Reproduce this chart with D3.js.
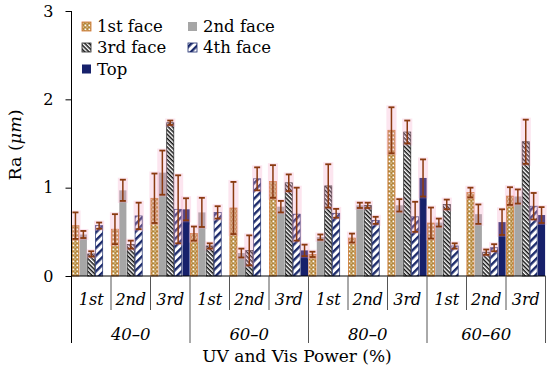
<!DOCTYPE html>
<html>
<head>
<meta charset="utf-8">
<script src="https://cdn.jsdelivr.net/npm/d3@7"></script>
<style>
  html, body { margin: 0; padding: 0; background: #fff; }
  svg { display: block; }
</style>
</head>
<body>
<script>
// ---- data ----
const outerCats = ["40–0", "60–0", "80–0", "60–60"];
const innerCats = ["1st", "2nd", "3rd"];
const seriesNames = ["1st face", "2nd face", "3rd face", "4th face", "Top"];
const yTicks = [0, 1, 2, 3];

const face1    = [0.57, 0.53, 0.88,  0.48, 0.77, 1.07,  0.245, 0.43, 1.65,  0.60, 0.945, 0.905];
const face1Err = [0.15, 0.17, 0.28,  0.08, 0.295, 0.185, 0.03, 0.05, 0.26,  0.175, 0.055, 0.10];
const face2    = [0.47, 0.97, 1.17,  0.72, 0.26, 0.785, 0.44, 0.80, 0.80,  0.605, 0.70, 0.90];
const face2Err = [0.04, 0.12, 0.25,  0.165, 0.05, 0.065, 0.03, 0.03, 0.07, 0.045, 0.11, 0.08];
const face3    = [0.25, 0.355, 1.735, 0.34, 0.29, 1.055, 1.02, 0.80, 1.63,  0.81, 0.27, 1.52];
const face3Err = [0.03, 0.045, 0.025, 0.03, 0.17, 0.095, 0.245, 0.03, 0.13, 0.055, 0.03, 0.25];
const face4    = [0.57, 0.68, 0.755, 0.72, 1.10, 0.70,  0.71, 0.63, 0.67,  0.34, 0.32, 0.79];
const face4Err = [0.035, 0.15, 0.385, 0.07, 0.13, 0.30, 0.05, 0.04, 0.17,  0.03, 0.04, 0.15];
const topFace    = [null, null, 0.755, null, null, 0.29,  null, null, 1.11,  null, 0.61, 0.69];
const topFaceErr = [null, null, 0.125, null, null, 0.065, null, null, 0.21,  null, 0.145, 0.09];

const seriesVals = [face1, face2, face3, face4, topFace];
const seriesErrs = [face1Err, face2Err, face3Err, face4Err, topFaceErr];

// ---- layout ----
const W = 550, H = 371;
const X0 = 71.5, X1 = 545.5, Y0 = 276, Y3 = 11;
const serif = "'DejaVu Serif', 'Liberation Serif', serif";

const svg = d3.select("body").append("svg").attr("width", W).attr("height", H);
const defs = svg.append("defs");

// patterns
const p1 = defs.append("pattern").attr("id", "pF1").attr("patternUnits", "userSpaceOnUse")
  .attr("width", 4).attr("height", 4);
p1.append("rect").attr("width", 4).attr("height", 4).attr("fill", "#B3873A");
p1.append("rect").attr("x", 0.5).attr("y", 0.5).attr("width", 1.8).attr("height", 1.8).attr("fill", "#fff");
p1.append("rect").attr("x", 2.5).attr("y", 2.5).attr("width", 1.2).attr("height", 1.2).attr("fill", "#f3e6cc");

const p3 = defs.append("pattern").attr("id", "pF3").attr("patternUnits", "userSpaceOnUse")
  .attr("width", 3).attr("height", 3).attr("patternTransform", "rotate(45)");
p3.append("rect").attr("width", 3).attr("height", 3).attr("fill", "#fff");
p3.append("rect").attr("width", 3).attr("height", 1.5).attr("fill", "#111");

const p4 = defs.append("pattern").attr("id", "pF4").attr("patternUnits", "userSpaceOnUse")
  .attr("width", 5.5).attr("height", 5.5).attr("patternTransform", "rotate(-45)");
p4.append("rect").attr("width", 5.5).attr("height", 5.5).attr("fill", "#fff");
p4.append("rect").attr("width", 5.5).attr("height", 2.4).attr("fill", "#1B2A6B");

const fills = ["url(#pF1)", "#A6A6A6", "url(#pF3)", "url(#pF4)", "#17216B"];
const strokes = ["#D0702A", "none", "#222", "#1B2A6B", "none"];

// scales
const y = d3.scaleLinear().domain([0, 3]).range([Y0, Y3]);
const xOuter = d3.scaleBand().domain(outerCats).range([X0, X1]).padding(0);
const xInner = d3.scaleBand().domain(innerCats).range([0, xOuter.bandwidth()]).padding(0);
const xBar = d3.scaleBand().domain(seriesNames).range([0, xInner.bandwidth()]).paddingInner(0.1).paddingOuter(0.05);

// flatten
const rows = [];
outerCats.forEach((o, oi) => innerCats.forEach((inn, ii) => {
  const idx = oi * innerCats.length + ii;
  seriesNames.forEach((s, si) => {
    const v = seriesVals[si][idx];
    if (v != null) rows.push({ o, inn, s, si, v, e: seriesErrs[si][idx] });
  });
}));
const bx = d => xOuter(d.o) + xInner(d.inn) + xBar(d.s);

// bars
svg.append("g").selectAll("rect").data(rows).join("rect")
  .attr("x", bx).attr("y", d => y(d.v))
  .attr("width", xBar.bandwidth()).attr("height", d => Y0 - y(d.v))
  .attr("fill", d => fills[d.si])
  .attr("stroke", d => strokes[d.si]).attr("stroke-width", 0.7);

// pink halo over error range
svg.append("g").selectAll("rect").data(rows).join("rect")
  .attr("x", d => bx(d) - 1.5).attr("y", d => y(d.v + d.e) - 2)
  .attr("width", xBar.bandwidth() + 3).attr("height", d => y(d.v - d.e) - y(d.v + d.e) + 4)
  .attr("fill", "#F5A3C7").attr("opacity", 0.28);

// error bars
const eg = svg.append("g").attr("stroke", "#8A3A10");
rows.forEach(d => {
  const cx = bx(d) + xBar.bandwidth() / 2;
  eg.append("line").attr("x1", cx).attr("x2", cx).attr("y1", y(d.v + d.e)).attr("y2", y(d.v - d.e)).attr("stroke-width", 1.5);
  [d.v + d.e, d.v - d.e].forEach(t => {
    eg.append("line").attr("x1", cx - 3).attr("x2", cx + 3).attr("y1", y(t)).attr("y2", y(t)).attr("stroke-width", 1.8);
  });
});

// y axis
const yAxis = d3.axisLeft(y).tickValues(yTicks).tickSize(6).tickFormat(d3.format("d"));
const ya = svg.append("g").attr("transform", `translate(${X0},0)`).call(yAxis);
ya.select(".domain").remove();
ya.selectAll(".tick line").attr("stroke", "#000");
ya.selectAll(".tick text").attr("x", -18).attr("font-family", serif).attr("font-size", 16).attr("fill", "#000");
svg.append("line").attr("x1", X0).attr("x2", X0).attr("y1", Y3).attr("y2", 343).attr("stroke", "#000");

// baseline
svg.append("line").attr("x1", X0).attr("x2", X1).attr("y1", Y0).attr("y2", Y0).attr("stroke", "#000");

// separators
const sepG = svg.append("g").attr("stroke", "#555");
outerCats.forEach(o => {
  innerCats.forEach((inn, ii) => {
    if (ii > 0) {
      const xx = xOuter(o) + xInner(inn);
      sepG.append("line").attr("x1", xx).attr("x2", xx).attr("y1", Y0).attr("y2", 310);
    }
    svg.append("text").attr("x", xOuter(o) + xInner(inn) + xInner.bandwidth() / 2).attr("y", 305)
      .attr("text-anchor", "middle").attr("font-family", serif).attr("font-style", "italic")
      .attr("font-size", 16).text(inn);
  });
  svg.append("text").attr("x", xOuter(o) + xOuter.bandwidth() / 2).attr("y", 340)
    .attr("text-anchor", "middle").attr("font-family", serif).attr("font-style", "italic")
    .attr("font-size", 16.5).text(o);
});
outerCats.forEach(o => {
  const xx = xOuter(o) + xOuter.bandwidth();
  sepG.append("line").attr("x1", xx).attr("x2", xx).attr("y1", Y0).attr("y2", 343);
});

// axis titles
svg.append("text").attr("x", 297).attr("y", 362).attr("text-anchor", "middle")
  .attr("font-family", serif).attr("font-size", 17).text("UV and Vis Power (%)");
const yt = svg.append("text").attr("transform", "translate(21,145) rotate(-90)").attr("text-anchor", "middle")
  .attr("font-family", serif).attr("font-size", 17.5);
yt.append("tspan").text("Ra (");
yt.append("tspan").attr("font-style", "italic").text("μm");
yt.append("tspan").text(")");

// legend
const legPos = [[82, 22], [188, 22], [82, 43], [188, 43], [82, 64.5]];
const lg = svg.append("g");
seriesNames.forEach((s, i) => {
  const [lx, ly] = legPos[i];
  lg.append("rect").attr("x", lx).attr("y", ly).attr("width", 9).attr("height", 9)
    .attr("fill", fills[i]).attr("stroke", strokes[i] === "none" ? "none" : strokes[i]).attr("stroke-width", 0.8);
  lg.append("text").attr("x", lx + 15).attr("y", ly + 10).attr("font-family", serif).attr("font-size", 16.5).text(s);
});
</script>
</body>
</html>
